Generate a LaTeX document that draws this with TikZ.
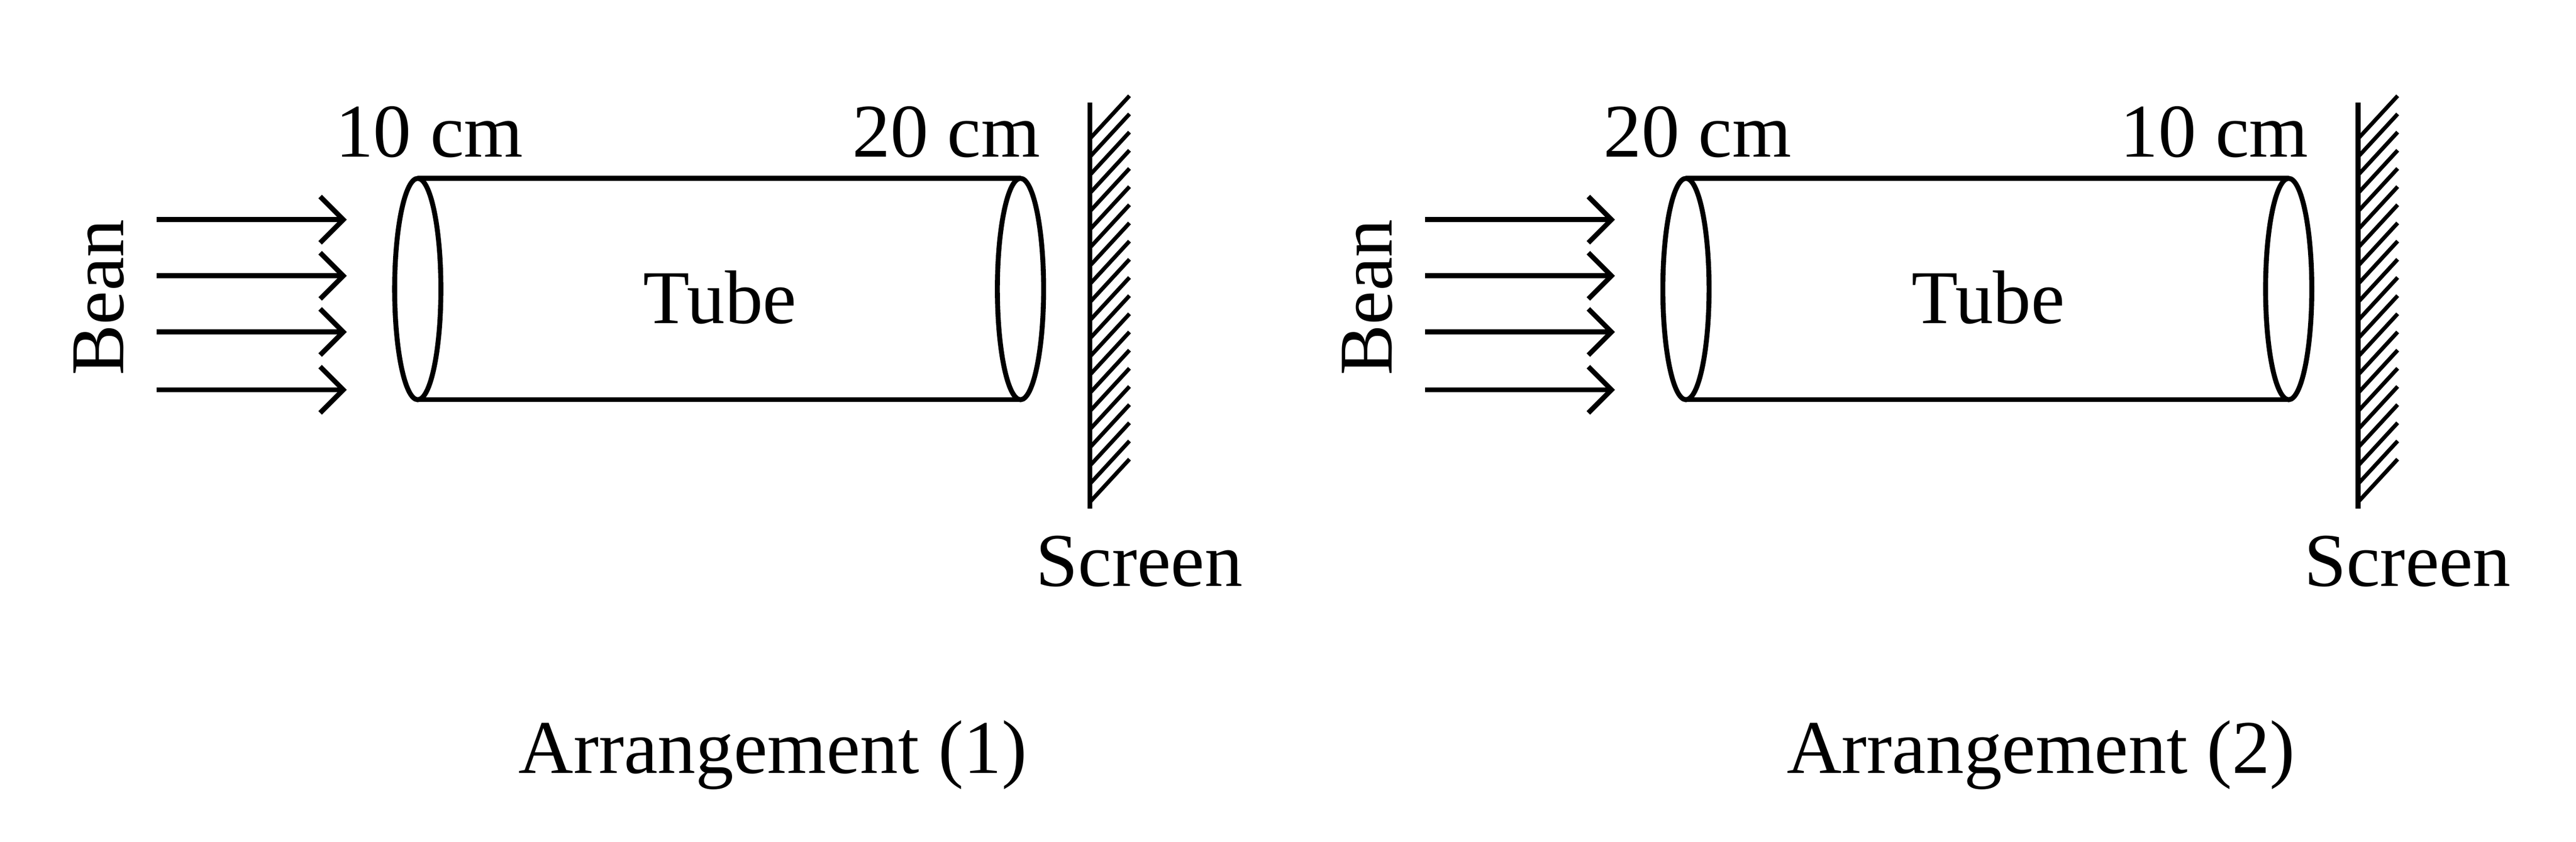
\documentclass[tikz,border=0pt]{standalone}
\usepackage{fontspec}
\setmainfont{Liberation Serif}
\usetikzlibrary{arrows.meta}
\begin{document}
\begin{tikzpicture}[x=0.5pt,y=-0.5pt,line width=1.5pt,
  lbl/.style={font=\fontsize{23}{27}\selectfont,inner sep=0pt},
  beam/.style={-{Straight Barb[length=7pt,width=14pt,line width=1.5pt]}}]
\useasboundingbox (0,0) rectangle (1560,509.6);
\foreach \o/\a/\b/\n in {0/10/20/1,768/20/10/2}{
\begin{scope}[xshift=\o*0.5pt]
 \draw (253,175) ellipse [x radius=14, y radius=67];
 \draw (618,175) ellipse [x radius=14, y radius=67];
 \draw (253,108) -- (618,108);
 \draw (253,242) -- (618,242);
 \foreach \y in {133,167,201,236} \draw[beam] (95,\y) -- (210,\y);
 \node[lbl,rotate=90] (bean\n) at (60,180) {Bean};
 \node[lbl] (a\n) at (260,80) {\a\ cm};
 \node[lbl] (b\n) at (573,80) {\b\ cm};
 \node[lbl] (tube\n) at (436,180) {Tube};
 \draw (660,62) -- (660,308);
 \foreach \k in {0,...,20} \draw[line width=1.2pt] (660,84+\k*11) -- (684,58+\k*11);
 \node[lbl] (scr\n) at (690,340) {Screen};
 \node[lbl] (arr\n) at (468,457) {Arrangement (\n)};
\end{scope}}
\end{tikzpicture}
\end{document}
